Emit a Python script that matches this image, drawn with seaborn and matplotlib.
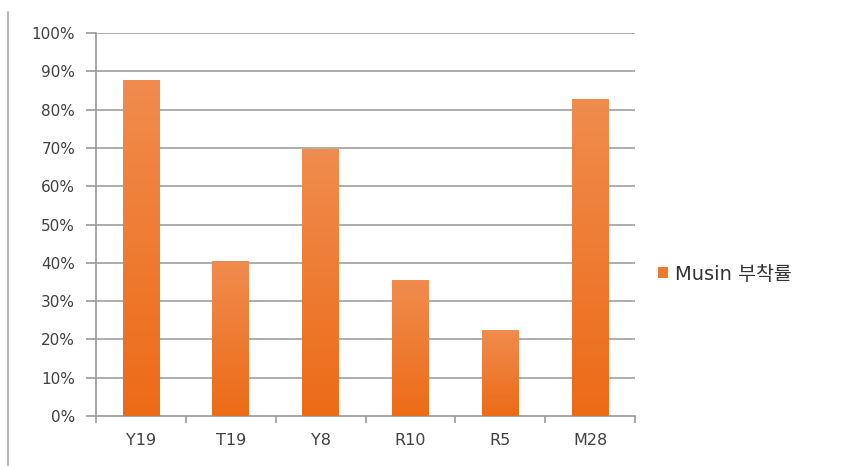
import numpy as np
import pandas as pd
import matplotlib
matplotlib.use("Agg")
import matplotlib.pyplot as plt
import seaborn as sns
from matplotlib.colors import LinearSegmentedColormap
from matplotlib.lines import Line2D
from matplotlib.patches import Rectangle

categories = ["Y19", "T19", "Y8", "R10", "R5", "M28"]
values = [0.877, 0.405, 0.697, 0.355, 0.225, 0.828]
series_name = "Musin 부착률"
y_ticks = [0, 0.1, 0.2, 0.3, 0.4, 0.5, 0.6, 0.7, 0.8, 0.9, 1.0]
y_tick_labels = ["0%", "10%", "20%", "30%", "40%", "50%", "60%", "70%", "80%", "90%", "100%"]

sns.set_theme(style="white")
plt.rcParams['font.family'] = ['DejaVu Sans', 'Noto Sans CJK KR']

df = pd.DataFrame({"cat": categories, "val": values})

fig = plt.figure(figsize=(8.41, 4.66), dpi=100)
ax = fig.add_axes([96/841, 1-416/466, (635-96)/841, (416-33)/466])

sns.barplot(data=df, x="cat", y="val", color="#EE7A30", width=0.41, ax=ax, zorder=3)

# gradient fill for bars
cmap = LinearSegmentedColormap.from_list("og", ["#EC6B17", "#F08C4E"])
grad = np.linspace(0, 1, 256).reshape(-1, 1)
for p in ax.patches:
    x0, y0 = p.get_x(), p.get_y()
    w, h = p.get_width(), p.get_height()
    p.set_facecolor("none")
    p.set_edgecolor("none")
    im = ax.imshow(grad, cmap=cmap, origin="lower", aspect="auto",
                   extent=[x0, x0 + w, y0, y0 + h], zorder=3)
    im.set_clip_path(p)

ax.set_xlim(-0.5, len(categories) - 0.5)
ax.set_ylim(0, 1.0)
ax.set_yticks(y_ticks)
ax.set_yticklabels(y_tick_labels)
ax.set_xlabel("")
ax.set_ylabel("")

# gridlines
for t in y_ticks[1:]:
    ax.axhline(t, color="#A0A0A0", lw=1.2, zorder=1)

for s in ["top", "right"]:
    ax.spines[s].set_visible(False)
ax.spines["left"].set_color("#9A9A9A")
ax.spines["bottom"].set_color("#9A9A9A")
ax.spines["left"].set_linewidth(1.2)
ax.spines["bottom"].set_linewidth(1.2)

ax.tick_params(axis="y", which="major", direction="out", length=7, width=1.2,
               color="#9A9A9A", labelsize=11, labelcolor="#404040", pad=8, left=True)
ax.tick_params(axis="x", which="major", length=0, labelsize=11.5, labelcolor="#404040", pad=12)
# category boundary ticks
ax.set_xticks(np.arange(-0.5, len(categories) + 0.5, 1), minor=True)
ax.tick_params(axis="x", which="minor", direction="out", length=5, width=1.2,
               color="#9A9A9A", bottom=True)

# legend
handle = Rectangle((0, 0), 1, 1, facecolor="#EE7A30", edgecolor="none")
leg = fig.legend([handle], [series_name], loc="center left",
                 bbox_to_anchor=(640/841, 1-274/466), frameon=False,
                 fontsize=14, handlelength=0.55, handleheight=0.55,
                 handletextpad=0.35, labelcolor="#333333")

# left border line of the image
fig.add_artist(Line2D([8/841, 8/841], [0, 1-12/466], color="#A8A8A8", lw=1.2,
                      transform=fig.transFigure))

fig.savefig("out.png", dpi=100, facecolor="white")
